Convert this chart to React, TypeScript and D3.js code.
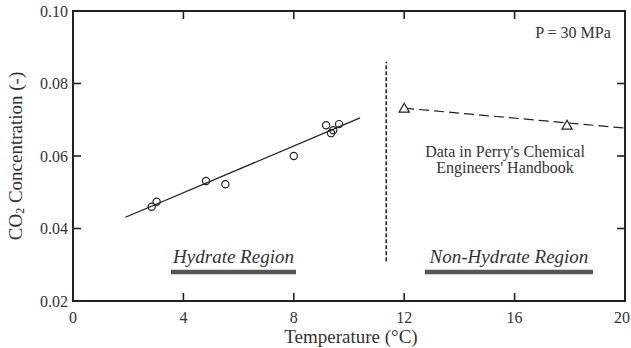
import * as d3 from "d3";

const hydrateTemp = [2.85, 3.03, 4.82, 5.52, 8.0, 9.17, 9.35, 9.43, 9.64];
const hydrateConc = [0.046, 0.0474, 0.0531, 0.0522, 0.06, 0.0685, 0.0663, 0.0671, 0.0688];
const fitTemp = [1.9, 10.4];
const fitConc = [0.0431, 0.0705];
const perryTemp = [12.0, 17.9];
const perryConc = [0.0732, 0.0685];
const perryLineTemp = [12.0, 20.0];
const perryLineConc = [0.0732, 0.0677];
const boundaryTemp = [11.35, 11.35];
const boundaryConc = [0.031, 0.086];
const xTicks = [0, 4, 8, 12, 16, 20];
const yTicks = [0.02, 0.04, 0.06, 0.08, 0.1];
const regionNames = ["Hydrate Region", "Non-Hydrate Region"];
const regionStart = [3.55, 12.75];
const regionEnd = [8.08, 18.84];

const W = 631;
const H = 348;
const margin = { top: 11, right: 6, bottom: 47, left: 73 };
const serif = "Liberation Serif, DejaVu Serif, serif";

export default function App() {
  const x = d3.scaleLinear().domain([0, 20]).range([margin.left, W - margin.right]);
  const y = d3.scaleLinear().domain([0.02, 0.1]).range([H - margin.bottom, margin.top]);
  const line = d3
    .line<[number, number]>()
    .x((d) => x(d[0]))
    .y((d) => y(d[1]));
  const zip = (a: number[], b: number[]) => a.map((v, i) => [v, b[i]] as [number, number]);
  const tri = d3.symbol(d3.symbolTriangle, 45)();
  const tick = 8;

  return (
    <div>
      <style>{`body{margin:0}`}</style>
      <svg width={W} height={H} style={{ display: "block" }}>
        <rect width={W} height={H} fill="#fff" />
        <g fontFamily={serif}>
          {/* ticks, inward on all four sides */}
          {xTicks.slice(1, -1).map((t) => (
            <g key={"xt" + t} stroke="#222" strokeWidth={1.6}>
              <line x1={x(t)} x2={x(t)} y1={y(0.02)} y2={y(0.02) - tick} />
              <line x1={x(t)} x2={x(t)} y1={y(0.1)} y2={y(0.1) + tick} />
            </g>
          ))}
          {yTicks.slice(1, -1).map((t) => (
            <g key={"yt" + t} stroke="#222" strokeWidth={1.6}>
              <line x1={x(0)} x2={x(0) + tick} y1={y(t)} y2={y(t)} />
              <line x1={x(20)} x2={x(20) - tick} y1={y(t)} y2={y(t)} />
            </g>
          ))}
          <rect
            x={x(0)}
            y={y(0.1)}
            width={x(20) - x(0)}
            height={y(0.02) - y(0.1)}
            fill="none"
            stroke="#222"
            strokeWidth={2}
          />

          {xTicks.map((t, i) => (
            <text
              key={"xl" + t}
              x={i === xTicks.length - 1 ? W - 1 : x(t)}
              y={y(0.02) + 22}
              fontSize={16}
              textAnchor={i === xTicks.length - 1 ? "end" : "middle"}
              fill="#333"
            >
              {t}
            </text>
          ))}
          {yTicks.map((t) => (
            <text
              key={"yl" + t}
              x={x(0) - 5}
              y={y(t)}
              fontSize={16}
              textAnchor="end"
              dominantBaseline="central"
              fill="#333"
            >
              {t.toFixed(2)}
            </text>
          ))}

          <text x={351} y={343} fontSize={19} textAnchor="middle" fill="#333">
            Temperature (°C)
          </text>
          <text
            transform={`translate(15, ${(y(0.02) + y(0.1)) / 2}) rotate(-90)`}
            fontSize={19}
            textAnchor="middle"
            dominantBaseline="central"
            fill="#333"
          >
            CO<tspan fontSize={12} dy={5}>2</tspan>
            <tspan dy={-5}> Concentration (-)</tspan>
          </text>

          {/* hydrate fit and data */}
          <path d={line(zip(fitTemp, fitConc)) ?? ""} fill="none" stroke="#222" strokeWidth={1.3} />
          {zip(hydrateTemp, hydrateConc).map((d, i) => (
            <circle key={"c" + i} cx={x(d[0])} cy={y(d[1])} r={3.6} fill="none" stroke="#222" strokeWidth={1.2} />
          ))}

          {/* boundary */}
          <path
            d={line(zip(boundaryTemp, boundaryConc)) ?? ""}
            fill="none"
            stroke="#222"
            strokeWidth={1.6}
            strokeDasharray="4 2"
          />

          {/* Perry's data */}
          <path
            d={line(zip(perryLineTemp, perryLineConc)) ?? ""}
            fill="none"
            stroke="#222"
            strokeWidth={1.2}
            strokeDasharray="10 5"
          />
          {zip(perryTemp, perryConc).map((d, i) => (
            <path
              key={"t" + i}
              d={tri ?? ""}
              transform={`translate(${x(d[0])},${y(d[1]) + 1})`}
              fill="#fff"
              stroke="#222"
              strokeWidth={1.2}
            />
          ))}

          <text x={573} y={38} fontSize={16} textAnchor="middle" fill="#333">
            P = 30 MPa
          </text>
          <text x={505} y={157} fontSize={16} textAnchor="middle" fill="#333">
            Data in Perry's Chemical
          </text>
          <text x={505} y={173} fontSize={16} textAnchor="middle" fill="#333">
            Engineers' Handbook
          </text>

          {/* region labels */}
          {regionNames.map((n, i) => (
            <g key={n}>
              <text
                x={(x(regionStart[i]) + x(regionEnd[i])) / 2}
                y={263}
                fontSize={19}
                fontStyle="italic"
                textAnchor="middle"
                fill="#333"
              >
                {n}
              </text>
              <line
                x1={x(regionStart[i])}
                x2={x(regionEnd[i])}
                y1={y(0.028)}
                y2={y(0.028)}
                stroke="#555"
                strokeWidth={4.5}
              />
            </g>
          ))}
        </g>
      </svg>
    </div>
  );
}
